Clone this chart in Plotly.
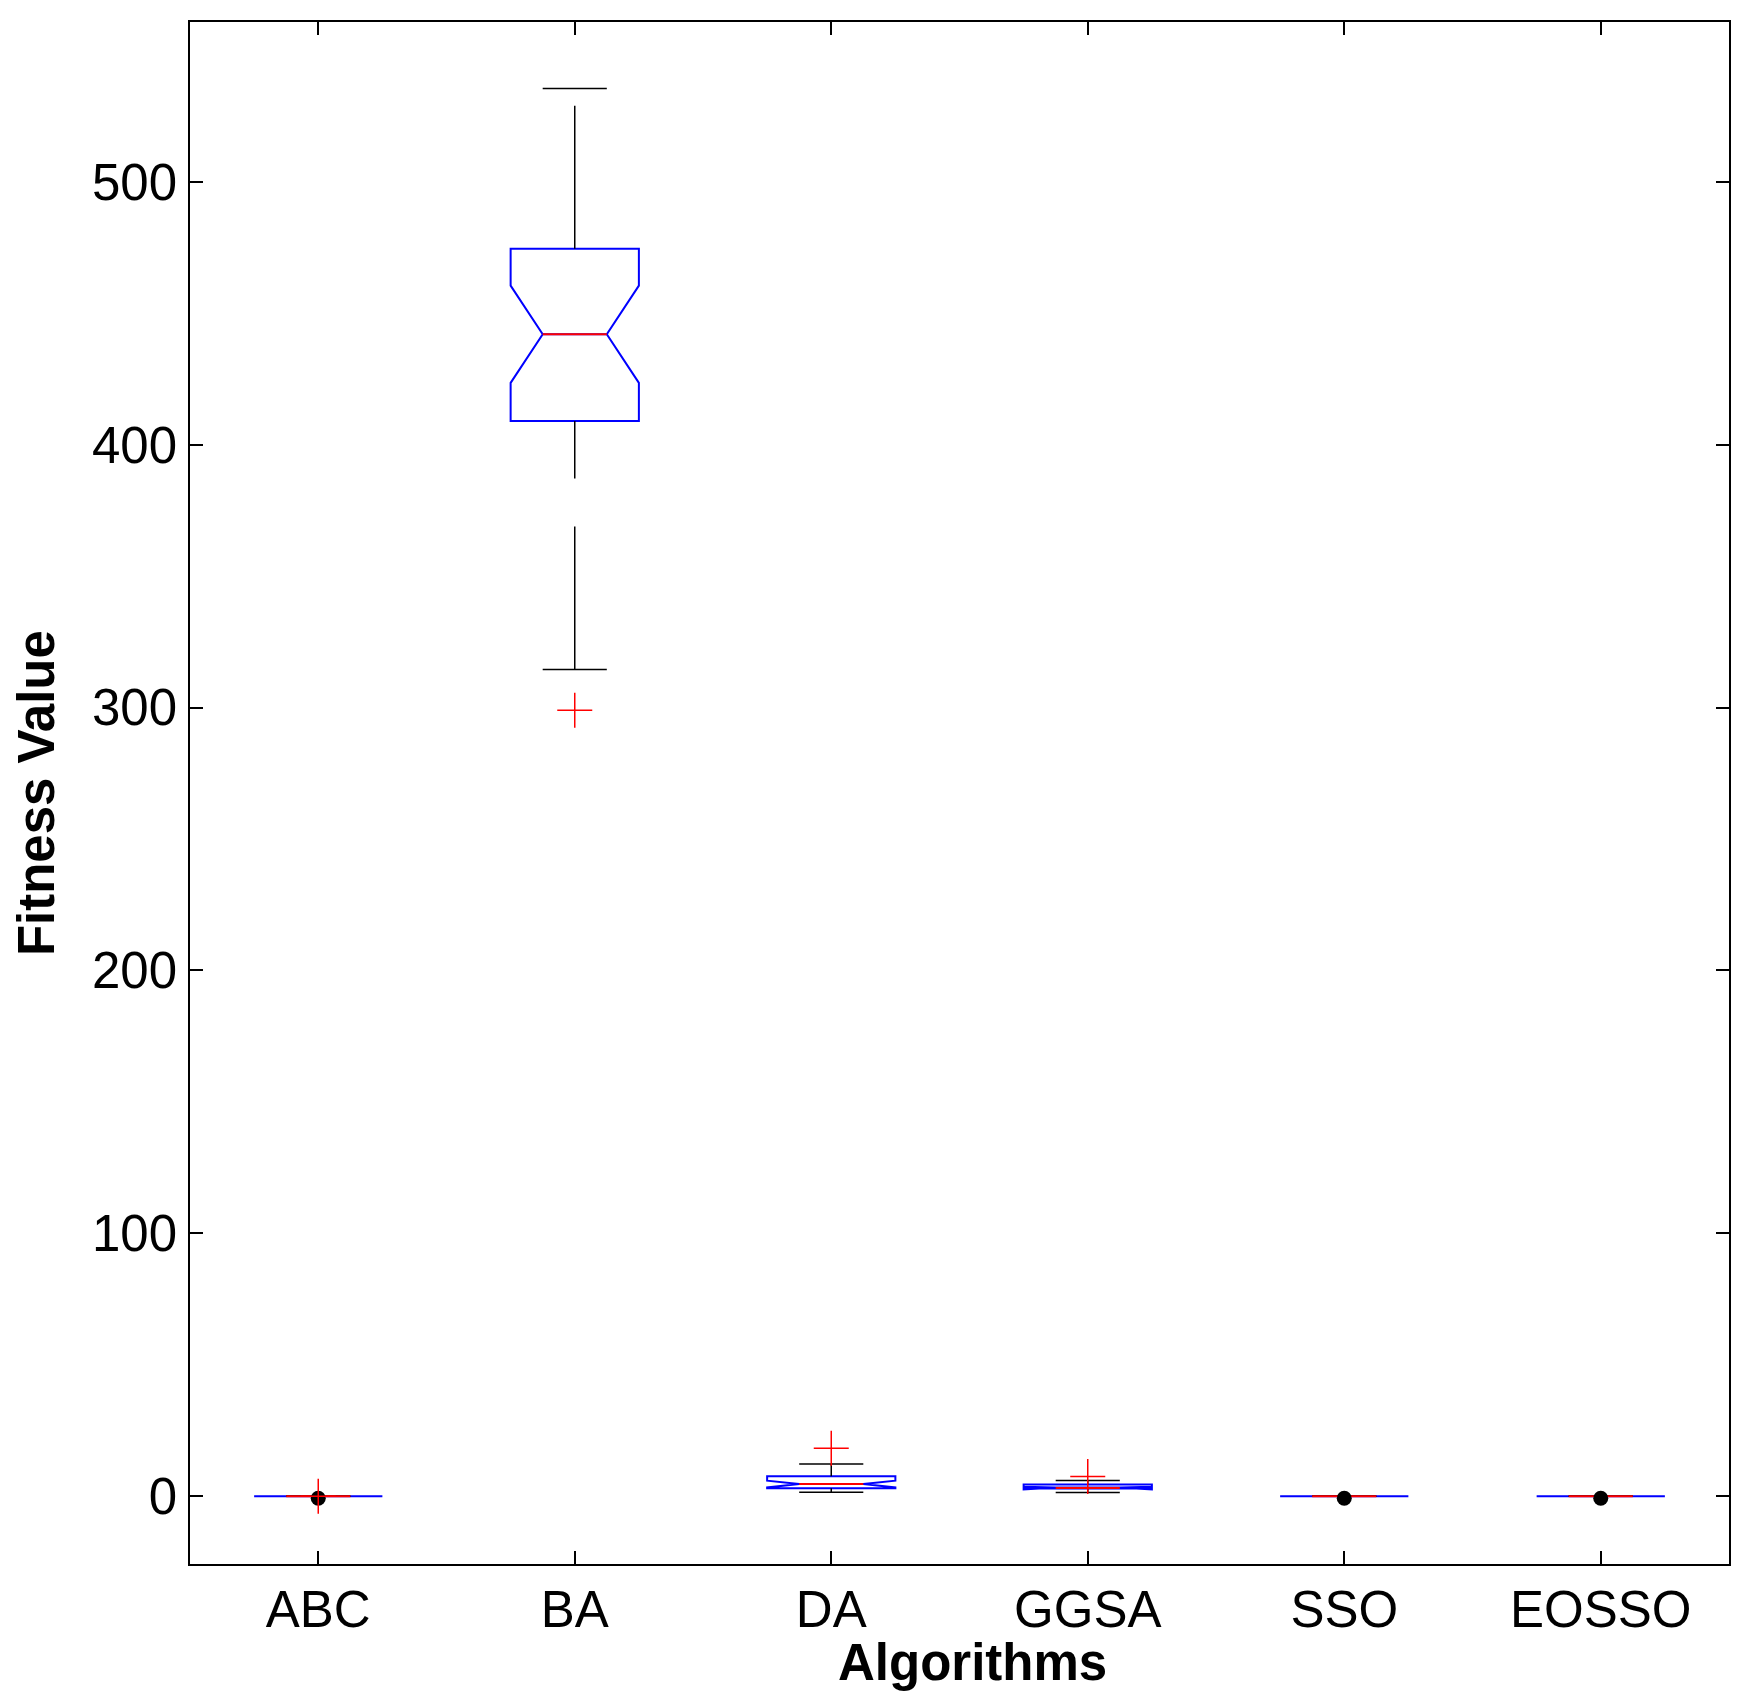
import plotly.graph_objects as go

# Boxplot summary (fitness values per algorithm)
algorithms = ["ABC", "BA", "DA", "GGSA", "SSO", "EOSSO"]
positions = [1, 2, 3, 4, 5, 6]
q1 = [0.0, 409.0, 3.0, 2.9, 0.0, 0.0]
medians = [0.0, 442.0, 4.6, 3.1, 0.0, 0.0]
q3 = [0.0, 474.5, 7.6, 4.4, 0.0, 0.0]
lower_whisker = [0.0, 314.5, 1.5, 1.4, 0.0, 0.0]
upper_whisker = [0.0, 535.5, 12.2, 6.0, 0.0, 0.0]
notch_half = [0.0, 18.5, 1.3, 0.5, 0.0, 0.0]

# outliers (red +)
outlier_alg = ["ABC", "BA", "DA", "GGSA"]
outlier_val = [0.0, 299.0, 18.2, 7.5]

# black dots near zero
dot_alg = ["ABC", "SSO", "EOSSO"]
dot_val = [-0.8, -0.8, -0.8]

y_ticks = [0, 100, 200, 300, 400, 500]

pos_of = dict(zip(algorithms, positions))
half_cap = 0.125

fig = go.Figure()

# notched boxes (blue), no whiskers here
fig.add_trace(go.Box(
    x=positions, q1=q1, median=medians, q3=q3,
    lowerfence=q1, upperfence=q3,
    notched=True, notchspan=notch_half, notchwidth=0.25,
    width=0.5, whiskerwidth=0,
    line=dict(color="#0000ff", width=2),
    fillcolor="rgba(0,0,0,0)",
    boxpoints=False, showlegend=False, hoverinfo="skip",
))

# dashed whiskers, drawn bottom to top
for lo, hi in ((lower_whisker, q1), (q3, upper_whisker)):
    wx, wy = [], []
    for p, a, b in zip(positions, lo, hi):
        wx += [p, p, None]
        wy += [a, b, None]
    fig.add_trace(go.Scatter(
        x=wx, y=wy, mode="lines",
        line=dict(color="black", width=1.5, dash="143px,48px"),
        showlegend=False, hoverinfo="skip",
    ))

# whisker caps
cx, cy = [], []
for p, a, b in zip(positions, lower_whisker, upper_whisker):
    cx += [p - half_cap, p + half_cap, None, p - half_cap, p + half_cap, None]
    cy += [a, a, None, b, b, None]
fig.add_trace(go.Scatter(
    x=cx, y=cy, mode="lines",
    line=dict(color="black", width=1.5),
    showlegend=False, hoverinfo="skip",
))

# red medians
mx, my = [], []
for p, m in zip(positions, medians):
    mx += [p - half_cap, p + half_cap, None]
    my += [m, m, None]
fig.add_trace(go.Scatter(
    x=mx, y=my, mode="lines",
    line=dict(color="#ff0000", width=2),
    showlegend=False, hoverinfo="skip",
))

# black dots
fig.add_trace(go.Scatter(
    x=[pos_of[a] for a in dot_alg], y=dot_val, mode="markers",
    marker=dict(symbol="circle", size=15, color="black"),
    showlegend=False, hoverinfo="skip",
))

# outliers
fig.add_trace(go.Scatter(
    x=[pos_of[a] for a in outlier_alg], y=outlier_val, mode="markers",
    marker=dict(symbol="cross-thin", size=25,
                line=dict(color="#ff0000", width=1.5)),
    showlegend=False, hoverinfo="skip",
))

axis_font = dict(family="Liberation Sans, Arial, sans-serif", size=51, color="black")

fig.update_layout(
    width=1746, height=1706,
    margin=dict(l=181.5, r=25, t=12, b=150),
    plot_bgcolor="white", paper_bgcolor="white",
    font=axis_font,
    xaxis=dict(
        range=[0.5, 6.5], tickvals=positions, ticktext=algorithms,
        ticks="inside", ticklen=13, tickwidth=1.5, tickcolor="black",
        showline=True, linecolor="black", linewidth=2, mirror="ticks",
        showgrid=False, zeroline=False, tickfont=axis_font,
    ),
    yaxis=dict(
        range=[-25.8, 560.8], tickvals=y_ticks,
        ticks="inside", ticklen=13, tickwidth=1.5, tickcolor="black",
        showline=True, linecolor="black", linewidth=1.5, mirror="ticks",
        showgrid=False, zeroline=False, tickfont=axis_font,
        ticklabelstandoff=1,
    ),
    annotations=[
        dict(text="<b>Algorithms</b>", xref="paper", yref="paper",
             x=0.5086, y=-0.064, xanchor="center", yanchor="middle",
             showarrow=False, font=axis_font),
        dict(text="<b>Fitness Value</b>", xref="paper", yref="paper",
             x=-0.1, y=0.5, xanchor="center", yanchor="middle",
             textangle=-90, showarrow=False, font=axis_font, borderpad=0),
    ],
)

fig.write_html("out.html")
